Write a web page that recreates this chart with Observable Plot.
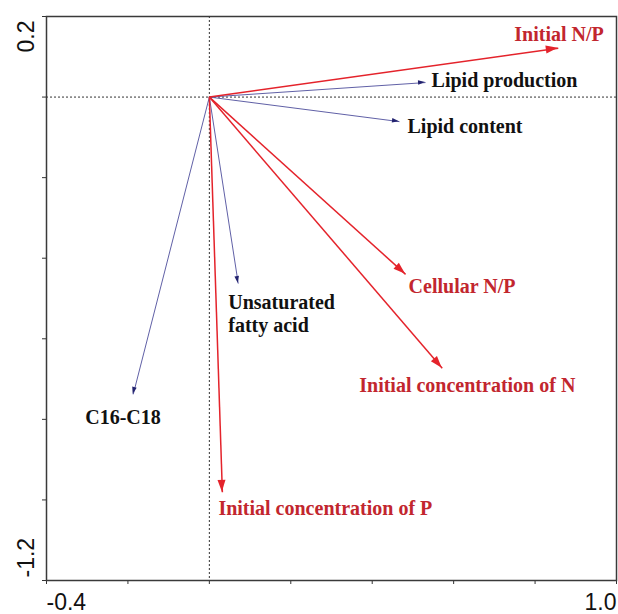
<!DOCTYPE html>
<html><head><meta charset="utf-8">
<script src="https://cdn.jsdelivr.net/npm/d3@7"></script>
<script src="https://cdn.jsdelivr.net/npm/@observablehq/plot@0.6"></script>
<style>html,body{margin:0;padding:0;background:#fff;overflow:hidden}</style>
</head><body><div id="chart"></div>
<script>
// Data: biplot vectors (axis 1, axis 2)
const variables = ["Initial N/P", "Lipid production", "Lipid content", "Cellular N/P",
  "Initial concentration of N", "Unsaturated\nfatty acid", "C16-C18", "Initial concentration of P"];
const axis1 = [0.857, 0.531, 0.467, 0.482, 0.572, 0.071, -0.187, 0.032];
const axis2 = [0.121, 0.036, -0.061, -0.440, -0.673, -0.463, -0.738, -0.981];
const groups = ["env", "resp", "resp", "env", "env", "resp", "resp", "env"];
const xTicks = [-0.4, -0.2, 0, 0.2, 0.4, 0.6, 0.8, 1.0];
const yTicks = [-1.2, -1.0, -0.8, -0.6, -0.4, -0.2, 0, 0.2];
const xEndTicks = [-0.4, 1.0];
const xEndLabels = ["-0.4", "1.0"];
const yEndTicks = [0.2, -1.2];
const yEndLabels = ["0.2", "-1.2"];

// Layout (pixel offsets of labels from arrow tips)
const labelDx = [-44, 6, 8, 3, -83, -10, -48, -4];
const labelDy = [-7, 4, 11, 19, 24, 48, 30, 23];

const idx = variables.map((_, i) => i);
const envIdx = idx.filter(i => groups[i] === "env");
const respIdx = idx.filter(i => groups[i] === "resp");
const RED_LINE = "#e4232b", RED_TEXT = "#c2262e", BLUE_LINE = "#4e4e9c", BLUE_HEAD = "#23236f";

function heads(ids, fill, len, half) {
  return (index, scales) => {
    const g = d3.create("svg:g").attr("fill", fill);
    const x0 = scales.x(0), y0 = scales.y(0);
    for (const i of ids) {
      const x1 = scales.x(axis1[i]), y1 = scales.y(axis2[i]);
      const a = Math.atan2(y1 - y0, x1 - x0);
      const bx = x1 - len * Math.cos(a), by = y1 - len * Math.sin(a);
      const px = -Math.sin(a) * half, py = Math.cos(a) * half;
      g.append("path").attr("d", `M${x1},${y1}L${bx + px},${by + py}L${bx - px},${by - py}Z`);
    }
    return g.node();
  };
}

const labelFont = {fontFamily: "'Liberation Serif', 'Times New Roman', serif", fontWeight: "bold", fontSize: 20};
const axisFont = {fontFamily: "'Liberation Sans', Arial, sans-serif", fontSize: 23, fill: "#111"};

const labelMarks = idx.map(i => Plot.text([i], {
  x: j => axis1[j], y: j => axis2[j], text: j => variables[j],
  dx: labelDx[i], dy: labelDy[i], textAnchor: "start", lineAnchor: "bottom", lineHeight: 1.15,
  fill: groups[i] === "env" ? RED_TEXT : "#111", ...labelFont
}));

const plot = Plot.plot({
  width: 618, height: 614,
  marginLeft: 46, marginRight: 2, marginTop: 16, marginBottom: 34,
  x: {domain: [-0.4, 1.0]},
  y: {domain: [-1.2, 0.2]},
  style: {background: "white"},
  marks: [
    Plot.ruleX([0], {stroke: "#333", strokeDasharray: "2,2", strokeWidth: 1}),
    Plot.ruleY([0], {stroke: "#333", strokeDasharray: "2,2", strokeWidth: 1}),
    Plot.link(respIdx, {x1: () => 0, y1: () => 0, x2: i => axis1[i], y2: i => axis2[i], stroke: BLUE_LINE, strokeWidth: 0.9}),
    Plot.link(envIdx, {x1: () => 0, y1: () => 0, x2: i => axis1[i], y2: i => axis2[i], stroke: RED_LINE, strokeWidth: 1.5}),
    heads(respIdx, BLUE_HEAD, 7, 2.3),
    heads(envIdx, RED_LINE, 12, 4),
    ...labelMarks,
    Plot.axisX({ticks: xTicks, tickSize: 4, tickFormat: () => "", label: null, stroke: "#333"}),
    Plot.axisY({ticks: yTicks, tickSize: 4, tickFormat: () => "", label: null, stroke: "#333"}),
    Plot.frame({stroke: "#3a3a3a", strokeWidth: 1.5}),
    Plot.text([0], {x: xEndTicks[0], y: -1.2, text: [xEndLabels[0]], textAnchor: "start", lineAnchor: "bottom", dy: 29, ...axisFont}),
    Plot.text([1], {x: xEndTicks[1], y: -1.2, text: [xEndLabels[1]], textAnchor: "end", lineAnchor: "bottom", dy: 29, ...axisFont}),
    Plot.text([0], {x: -0.4, y: yEndTicks[0], text: [yEndLabels[0]], rotate: -90, textAnchor: "end", lineAnchor: "bottom", dx: -13, dy: 4, ...axisFont}),
    Plot.text([1], {x: -0.4, y: yEndTicks[1], text: [yEndLabels[1]], rotate: -90, textAnchor: "start", lineAnchor: "bottom", dx: -13, dy: -3, ...axisFont})
  ]
});
document.getElementById("chart").appendChild(plot);
</script>
</body></html>
